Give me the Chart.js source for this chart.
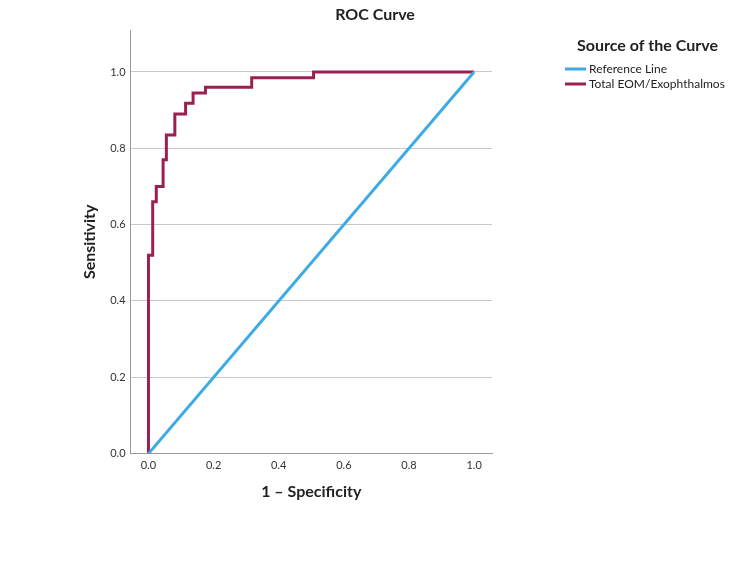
<!DOCTYPE html>
<html>
<head>
<meta charset="utf-8">
<script src="https://cdn.jsdelivr.net/npm/chart.js@4/dist/chart.umd.min.js"></script>
<style>
html,body{margin:0;padding:0;background:#fff;}
#wrap{width:750px;height:563px;position:relative;}
</style>
</head>
<body>
<div id="wrap"><canvas id="c" width="750" height="563"></canvas></div>
<script>
// Data
const rocFpr = [0, 0, 0.013, 0.024, 0.045, 0.055, 0.081, 0.114, 0.137, 0.175, 0.317, 0.507, 1];
const rocTpr = [0, 0.52, 0.66, 0.70, 0.77, 0.835, 0.89, 0.918, 0.945, 0.96, 0.985, 1, 1];
const refX = [0, 1];
const refY = [0, 1];
const tickValues = [0, 0.2, 0.4, 0.6, 0.8, 1.0];
const seriesLabels = ['Reference Line', 'Total EOM/Exophthalmos'];
const seriesColors = ['#3daae6', '#9c1f52'];
const legendTitle = 'Source of the Curve';
const chartTitle = 'ROC Curve';

const FONT = 'Lato, "Open Sans", sans-serif';

const legendPlugin = {
  id: 'customLegend',
  afterDraw(chart) {
    const ctx = chart.ctx;
    ctx.save();
    ctx.fillStyle = '#222';
    ctx.textBaseline = 'middle';
    ctx.textAlign = 'center';
    ctx.font = 'bold 16px ' + FONT;
    ctx.fillText(chartTitle, 375, 15);
    ctx.textAlign = 'left';
    ctx.fillText(legendTitle, 577, 46);
    ctx.font = '12px ' + FONT;
    const ys = [69, 84];
    chart.data.datasets.forEach((ds, i) => {
      ctx.strokeStyle = ds.borderColor;
      ctx.lineWidth = 3;
      ctx.beginPath();
      ctx.moveTo(565, ys[i]);
      ctx.lineTo(586, ys[i]);
      ctx.stroke();
      ctx.fillStyle = '#222';
      ctx.fillText(ds.label, 589, ys[i]);
    });
    ctx.restore();
  }
};

new Chart(document.getElementById('c'), {
  type: 'scatter',
  data: {
    datasets: [
      {
        label: seriesLabels[0],
        data: refX.map((x, i) => ({x: x, y: refY[i]})),
        showLine: true,
        borderColor: seriesColors[0],
        backgroundColor: seriesColors[0],
        borderWidth: 3,
        pointRadius: 0,
        fill: false
      },
      {
        label: seriesLabels[1],
        data: rocFpr.map((x, i) => ({x: x, y: rocTpr[i]})),
        showLine: true,
        stepped: 'before',
        borderColor: seriesColors[1],
        backgroundColor: seriesColors[1],
        borderWidth: 3,
        pointRadius: 0,
        fill: false
      }
    ]
  },
  options: {
    responsive: false,
    animation: false,
    layout: {padding: {left: 76, right: 258, top: 30, bottom: 62}},
    plugins: {
      legend: {display: false},
      tooltip: {enabled: false},
      title: {display: false}
    },
    scales: {
      x: {
        type: 'linear',
        min: -0.055,
        max: 1.055,
        afterBuildTicks(scale) { scale.ticks = tickValues.map(v => ({value: v})); },
        ticks: {
          color: '#333',
          font: {family: FONT, size: 11},
          padding: 5,
          callback: v => Number(v).toFixed(1)
        },
        grid: {display: false, drawTicks: false},
        border: {display: true, color: '#9a9a9a', width: 1},
        title: {
          display: true,
          text: '1 \u2013 Specificity',
          color: '#222',
          font: {family: FONT, size: 16, weight: 'bold'},
          padding: {top: 5, bottom: 0}
        }
      },
      y: {
        type: 'linear',
        min: 0,
        max: 1.11,
        afterBuildTicks(scale) { scale.ticks = tickValues.map(v => ({value: v})); },
        ticks: {
          color: '#333',
          font: {family: FONT, size: 11},
          padding: 5,
          callback: v => Number(v).toFixed(1)
        },
        grid: {
          display: true,
          drawTicks: false,
          color: ctx => (ctx.tick && ctx.tick.value === 0) ? 'rgba(0,0,0,0)' : '#c8c8c8',
          lineWidth: 1
        },
        border: {display: true, color: '#9a9a9a', width: 1},
        title: {
          display: true,
          text: 'Sensitivity',
          color: '#222',
          font: {family: FONT, size: 16, weight: 'bold'},
          padding: {top: 4, bottom: 6}
        }
      }
    }
  },
  plugins: [legendPlugin]
});
</script>
</body>
</html>
